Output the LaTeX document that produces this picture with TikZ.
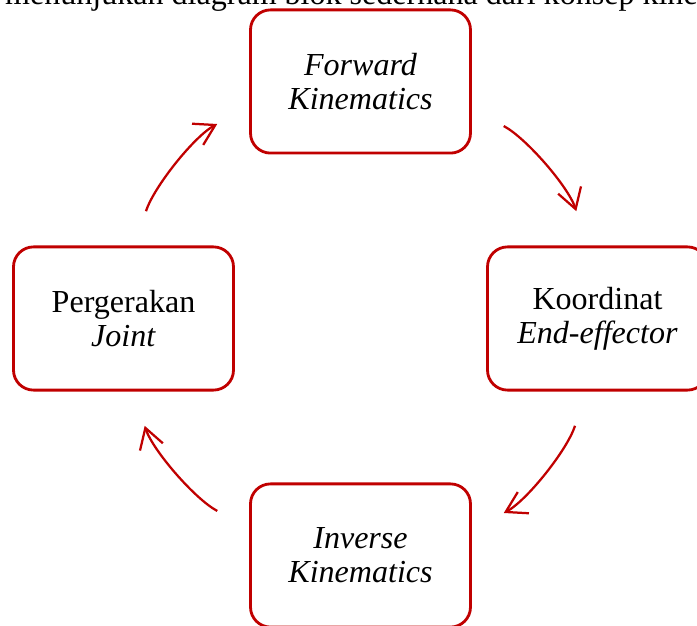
\documentclass[tikz,border=0pt]{standalone}
\usepackage{fontspec}
\setmainfont{Liberation Serif}
\usepackage{xcolor}
\usetikzlibrary{arrows.meta}
\definecolor{merah}{HTML}{C00000}

\begin{document}
\begin{tikzpicture}[
    blok/.style={draw=merah,line width=2pt,rounded corners=0.5cm,
      minimum width=5.5cm,minimum height=3.58cm,align=center,
      font={\fontsize{22.8}{24}\selectfont}},
    panah/.style={draw=merah,line width=1.6pt,looseness=0.88,
      -{Straight Barb[length=5mm,width=6mm]},
      shorten <=0.9cm,shorten >=0.9cm}]
\path[use as bounding box] (-9.0125,-7.6875) rectangle (8.4125,7.9625);
\clip (-9.0125,-7.6875) rectangle (8.4125,7.9625);
% potongan teks di atas gambar
\node[anchor=base west,inner sep=0,font={\fontsize{22.8}{24}\selectfont}] (judul) at (-8.89,7.85)
  {menunjukan diagram blok sederhana dari konsep kine};
% blok
\node[blok] (fk) at (0,5.925) {\textit{Forward}\\\textit{Kinematics}};
\node[blok] (ke) at (5.925,0) {Koordinat\\\textit{End-effector}};
\node[blok] (ik) at (0,-5.925) {\textit{Inverse}\\\textit{Kinematics}};
\node[blok] (pj) at (-5.925,0) {Pergerakan\\\textit{Joint}};
% panah melingkar
\draw[panah] (pj.81.16) to[out=72.31,in=207.79] (fk.193.89);
\draw[panah] (fk.346.11) to[out=-27.79,in=107.69] (ke.98.84);
\draw[panah] (ke.261.16) to[out=252.31,in=27.79] (ik.13.89);
\draw[panah] (ik.166.11) to[out=152.21,in=287.69] (pj.278.84);
\end{tikzpicture}
\end{document}
